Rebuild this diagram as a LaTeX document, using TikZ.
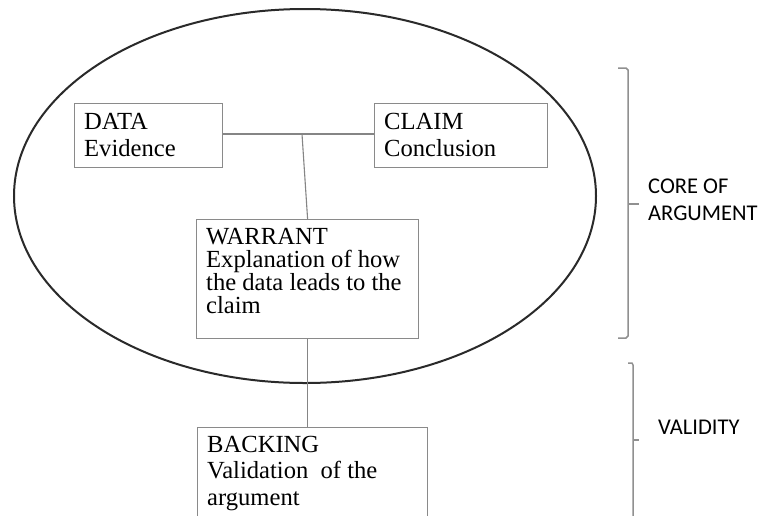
\documentclass[tikz,border=0pt]{standalone}
\usepackage{fontspec}
\setmainfont{Liberation Serif}
\newfontfamily\labelsans{Carlito}
\begin{document}
\begin{tikzpicture}[x=1pt,y=-1pt,
  boxstyle/.style={draw=boxgray,line width=1.2pt,rectangle,inner sep=0pt},
  boxtext/.style={anchor=base west,inner sep=0pt,align=left,font=\fontsize{24.6}{27}\selectfont},
  wire/.style={draw=wiregray,line width=1.1pt},
  bracestyle/.style={draw=bracegray,line width=1.5pt},
  sidelabel/.style={anchor=base west,inner sep=0pt,align=left,font=\labelsans\fontsize{22.5}{27}\selectfont}]
\definecolor{boxgray}{HTML}{8A8A8A}
\definecolor{wiregray}{HTML}{858585}
\definecolor{bracegray}{HTML}{909090}
\definecolor{ellcol}{HTML}{2A2A2A}
\useasboundingbox[fill=white] (0,0) rectangle (760,515);
\begin{scope}
\clip (0,0) rectangle (760,515);
% ellipse
\draw[draw=ellcol,line width=2pt] (305,196) ellipse [x radius=291, y radius=187];
% boxes
\node[boxstyle,minimum width=148pt,minimum height=64pt,anchor=north west] (data) at (74,103) {};
\node[boxstyle,minimum width=173pt,minimum height=64pt,anchor=north west] (claim) at (374,103) {};
\node[boxstyle,minimum width=222pt,minimum height=119pt,anchor=north west] (warrant) at (196,219) {};
\node[boxstyle,minimum width=230pt,minimum height=120pt,anchor=north west] (backing) at (197,427) {};
% texts (base anchor = last line baseline)
\node[boxtext] (dataT) at (84,156) {DATA\\Evidence};
\node[boxtext] (claimT) at (384,156) {CLAIM\\Conclusion};
\node[boxtext,font=\fontsize{24.6}{23}\selectfont] (warrantT) at (206,313) {WARRANT\\Explanation of how\\the data leads to the\\claim};
\node[boxtext,font=\fontsize{24.6}{26.5}\selectfont] (backingT) at (207,505) {BACKING\\Validation\ \ of the\\argument};
% connectors
\coordinate (join) at (302,134);
\draw[wire] (data.east |- join) -- (claim.west |- join);
\draw[wire] (join) -- (warrant.north);
\draw[wire] (warrant.south) -- (warrant.south |- backing.north);
% braces
\draw[bracestyle] (618,68) -- (626,68) -- (628,70) -- (628,336) -- (626,338) -- (618,338);
\draw[bracestyle] (628,204) -- (639,204);
\draw[bracestyle] (628,363) -- (632,363) -- (633,365) -- (633,520);
\draw[bracestyle] (633,440) -- (639,440);
% side labels
\node[sidelabel] (core) at (648,220) {CORE OF\\ARGUMENT};
\node[sidelabel] (valid) at (658,434) {VALIDITY};
\end{scope}
\end{tikzpicture}
\end{document}
